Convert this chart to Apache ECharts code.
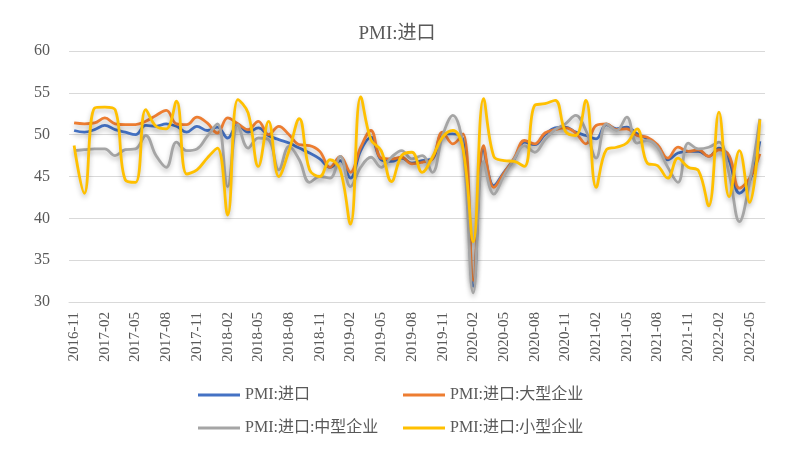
<!DOCTYPE html>
<html>
<head>
<meta charset="utf-8">
<script src="https://cdn.jsdelivr.net/npm/echarts@6/dist/echarts.min.js"></script>
<style>
  html, body { margin: 0; padding: 0; background: #fff; }
  #chart { width: 794px; height: 453px; }
</style>
</head>
<body>
<div id="chart"></div>
<script>
// 月份
const months = [
  '2016-11', '2016-12',
  '2017-01', '2017-02', '2017-03', '2017-04', '2017-05', '2017-06', '2017-07', '2017-08', '2017-09', '2017-10', '2017-11', '2017-12',
  '2018-01', '2018-02', '2018-03', '2018-04', '2018-05', '2018-06', '2018-07', '2018-08', '2018-09', '2018-10', '2018-11', '2018-12',
  '2019-01', '2019-02', '2019-03', '2019-04', '2019-05', '2019-06', '2019-07', '2019-08', '2019-09', '2019-10', '2019-11', '2019-12',
  '2020-01', '2020-02', '2020-03', '2020-04', '2020-05', '2020-06', '2020-07', '2020-08', '2020-09', '2020-10', '2020-11', '2020-12',
  '2021-01', '2021-02', '2021-03', '2021-04', '2021-05', '2021-06', '2021-07', '2021-08', '2021-09', '2021-10', '2021-11', '2021-12',
  '2022-01', '2022-02', '2022-03', '2022-04', '2022-05', '2022-06'
]

// PMI:进口
const importAll = [
  50.5, 50.3,
  50.6, 51.1, 50.6, 50.3, 50.0, 51.1, 51.0, 51.3, 51.0, 50.3, 51.0, 50.5,
  50.9, 49.6, 51.2, 50.3, 50.8, 49.9, 49.4, 49.0, 48.4, 47.8, 47.1, 46.1,
  46.9, 44.8, 48.1, 49.7, 47.0, 46.8, 47.2, 46.6, 46.9, 47.1, 50.1, 50.1,
  49.3, 31.9, 48.3, 43.9, 45.5, 47.1, 49.1, 48.8, 50.0, 50.8, 50.9, 50.3,
  49.9, 49.5, 51.2, 50.7, 50.9, 50.1, 49.5, 48.7, 47.0, 47.8, 48.0, 48.0,
  47.4, 48.4, 46.9, 43.0, 44.5, 49.2
]
// PMI:进口:大型企业
const importLarge = [
  51.4, 51.3,
  51.4, 52.0, 51.3, 51.2, 51.2, 51.6, 52.3, 52.9, 51.3, 51.2, 52.1, 51.4,
  50.2, 52.0, 51.3, 50.6, 51.6, 50.0, 51.0, 50.0, 48.8, 48.7, 48.0, 46.1,
  47.4, 45.5, 48.5, 50.5, 47.2, 47.1, 47.3, 46.5, 46.7, 47.1, 50.3, 48.9,
  50.1, 32.6, 48.7, 43.7, 45.4, 47.2, 49.3, 48.9, 50.2, 50.6, 50.8, 50.2,
  48.9, 51.1, 51.3, 50.6, 50.7, 49.9, 49.7, 48.8, 47.2, 48.5, 48.0, 48.2,
  47.4, 48.2, 47.5, 43.6, 44.8, 47.7
]
// PMI:进口:中型企业
const importMedium = [
  48.1, 48.2,
  48.3, 48.3, 47.5, 48.2, 48.3, 49.9, 47.5, 46.1, 49.1, 48.1, 48.3, 49.8,
  51.3, 43.8, 51.2, 48.4, 49.6, 49.4, 45.8, 48.6, 47.0, 44.3, 45.0, 44.8,
  47.4, 43.8, 46.1, 47.3, 46.1, 47.3, 48.1, 47.1, 47.5, 45.5, 49.9, 52.3,
  48.5, 31.1, 46.8, 42.9, 45.1, 47.1, 48.7, 47.9, 49.4, 50.6, 51.3, 52.3,
  50.5, 47.2, 51.3, 50.5, 52.1, 49.0, 49.3, 48.5, 46.1, 44.3, 49.0, 48.3,
  48.5, 49.1, 45.3, 39.6, 44.4, 51.9
]
// PMI:进口:小型企业
const importSmall = [
  48.7, 43.0,
  53.2, 53.3, 53.0, 44.6, 44.3, 53.0, 51.0, 50.7, 54.0, 45.3, 45.8, 47.2,
  48.4, 40.4, 54.2, 52.6, 46.2, 51.6, 45.0, 48.1, 51.9, 45.8, 45.0, 47.0,
  45.8, 39.3, 54.5, 49.4, 48.1, 44.4, 47.5, 47.9, 45.5, 47.3, 49.7, 50.5,
  48.3, 37.2, 54.3, 47.4, 46.9, 46.8, 46.2, 53.5, 53.7, 54.1, 50.4, 49.9,
  54.1, 43.7, 48.2, 48.5, 49.0, 50.7, 46.6, 46.3, 44.8, 47.2, 46.1, 45.7,
  41.5, 52.7, 42.6, 48.1, 41.9, 51.8
]

const names = ['PMI:进口', 'PMI:进口:大型企业', 'PMI:进口:中型企业', 'PMI:进口:小型企业']
const colors = ['#4472C4', '#ED7D31', '#A5A5A5', '#FFC000']
const values = [importAll, importLarge, importMedium, importSmall]

const fontFamily = "'Liberation Serif', 'Noto Sans CJK SC', serif"
const textColor = '#595959'

const chart = echarts.init(document.getElementById('chart'), null, { renderer: 'canvas' })

const legendPos = [
  { left: 198, top: 387 },
  { left: 403, top: 387 },
  { left: 198, top: 420 },
  { left: 403, top: 420 }
]

chart.setOption({
  animation: false,
  backgroundColor: '#fff',
  title: {
    text: 'PMI:进口',
    left: 'center',
    top: 20,
    textStyle: {
      fontFamily: fontFamily,
      fontSize: 19,
      fontWeight: 'normal',
      color: textColor
    }
  },
  legend: legendPos.map((p, i) => ({
    left: p.left,
    top: p.top,
    padding: 0,
    data: [names[i]],
    icon: 'rect',
    itemWidth: 42,
    itemHeight: 3,
    itemGap: 0,
    textStyle: {
      fontFamily: fontFamily,
      fontSize: 16,
      color: textColor
    }
  })),
  grid: {
    left: 69,
    right: 29,
    top: 51,
    bottom: 151
  },
  xAxis: {
    type: 'category',
    data: months,
    boundaryGap: true,
    axisLine: { lineStyle: { color: '#D9D9D9', width: 1 } },
    axisTick: { show: false },
    axisLabel: {
      interval: 2,
      rotate: 90,
      margin: 10,
      fontFamily: fontFamily,
      fontSize: 15,
      color: textColor
    },
    splitLine: { show: false }
  },
  yAxis: {
    type: 'value',
    min: 30,
    max: 60,
    interval: 5,
    axisLine: { show: false },
    axisTick: { show: false },
    axisLabel: {
      margin: 19,
      fontFamily: fontFamily,
      fontSize: 16,
      color: textColor
    },
    splitLine: { lineStyle: { color: '#D9D9D9', width: 1 } }
  },
  series: values.map((v, i) => ({
    name: names[i],
    type: 'line',
    data: v,
    smooth: 0.4,
    showSymbol: false,
    symbol: 'none',
    color: colors[i],
    lineStyle: {
      width: 2.8,
      color: colors[i],
      shadowColor: 'rgba(0, 0, 0, 0.25)',
      shadowBlur: 5,
      shadowOffsetY: 3
    },
    z: 2 + i
  }))
})
</script>
</body>
</html>
